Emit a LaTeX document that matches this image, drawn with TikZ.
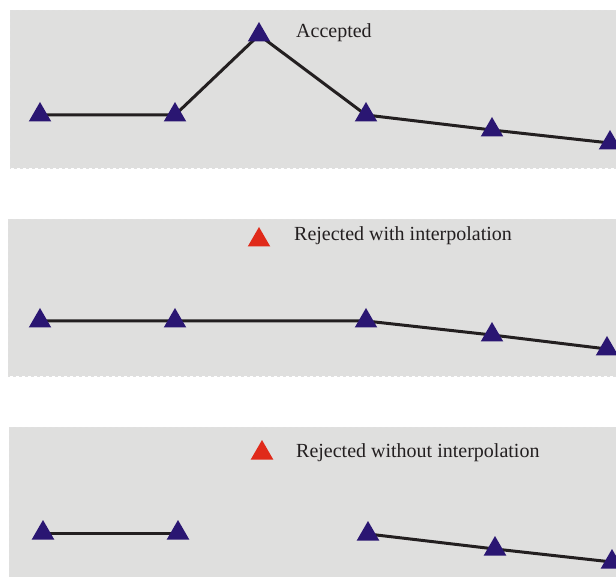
\documentclass[tikz,border=0pt]{standalone}
\usepackage{fontspec}
\setmainfont{Liberation Serif}
\usepackage{tikz}
\usetikzlibrary{shapes.geometric}
\usetikzlibrary{backgrounds}
\definecolor{feld}{HTML}{DFDFDE}
\definecolor{punkt}{HTML}{2A1672}
\definecolor{verworfen}{HTML}{E02A1A}
\definecolor{linie}{HTML}{231F20}
\tikzset{
  Punkt/.style={regular polygon, regular polygon sides=3, minimum size=26pt,
    inner sep=0pt, fill=#1, draw=none}, % Messpunkt als Dreieck
  Punkt/.default=punkt,
  Feld/.style={fill=feld, draw=white!88!black, dashed, very thin},
  Verlauf/.style={draw=linie, line width=3pt},
  Text/.style={anchor=base west, inner sep=0pt, text=linie,
    font=\fontsize{20}{24}\selectfont}
}

\begin{document}
\begin{tikzpicture}[x=1pt,y=-1pt]
\useasboundingbox (0,0) rectangle (616,577);

%Messpunkte
\foreach \n/\x/\y in {1/40/115, 2/175/115, 3/259/35, 4/366/115, 5/492/130, 6/610/143}
  \node[Punkt] (A\n) at (\x,\y) {};
\foreach \n/\x/\y in {1/40/321, 2/175/321, 3/366/321, 4/492/335, 5/607/349}
  \node[Punkt] (B\n) at (\x,\y) {};
\foreach \n/\x/\y in {1/43/533, 2/178/533, 3/368/534, 4/495/549, 5/612/562}
  \node[Punkt] (C\n) at (\x,\y) {};

%verworfene Punkte
\node[Punkt=verworfen] (Bx) at (259,240) {};
\node[Punkt=verworfen] (Cx) at (262,453) {};

%Beschriftung
\node[Text] (tA) at (296,38) {Accepted};
\node[Text] (tB) at (294,241) {Rejected with interpolation};
\node[Text] (tC) at (296,457) {Rejected without interpolation};

\begin{scope}[on background layer]
%Felder
\draw[Feld] (10,10) rectangle (620,168);
\draw[Feld] (8,219) rectangle (620,376);
\draw[Feld] (9,427) rectangle (620,580);

%Verbindungen
\draw[Verlauf] (A1.center) -- (A2.center) -- (A3.center) -- (A4.center)
  -- (A5.center) -- (A6.center);
\draw[Verlauf] (B1.center) -- (B2.center) -- (B3.center) -- (B4.center)
  -- (B5.center);
\draw[Verlauf] (C1.center) -- (C2.center);
\draw[Verlauf] (C3.center) -- (C4.center) -- (C5.center);
\end{scope}
\end{tikzpicture}
\end{document}
